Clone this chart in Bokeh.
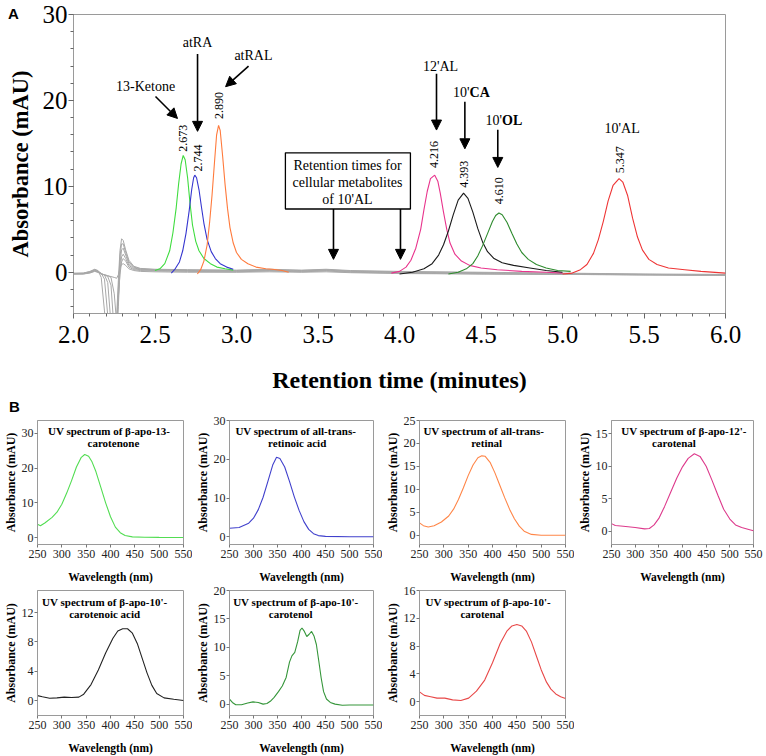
import numpy as np
from bokeh.plotting import figure
from bokeh.layouts import column, row
from bokeh.models import (Range1d, SingleIntervalTicker, PrintfTickFormatter,
                          Arrow, NormalHead, Div)
from bokeh.core.properties import value
from bokeh.embed import file_html
from bokeh.resources import INLINE

SERIF = "Liberation Serif"
SANS = "Liberation Sans"

# ---------------- Panel A data (retention time, mAU) ----------------
ketone_t = [2.50, 2.53, 2.56, 2.59, 2.61, 2.63, 2.645, 2.66, 2.673, 2.685, 2.70, 2.715,
            2.73, 2.75, 2.77, 2.80, 2.84, 2.88, 2.93, 2.98]
ketone_a = [0.2, 0.4, 1.0, 2.5, 4.6, 7.5, 10.3, 12.6, 13.6, 13.1, 11.0, 8.0,
            5.5, 3.6, 2.5, 1.6, 1.0, 0.6, 0.4, 0.25]

atra_t = [2.60, 2.62, 2.65, 2.67, 2.69, 2.71, 2.725, 2.737, 2.744, 2.755, 2.77, 2.785,
          2.80, 2.82, 2.845, 2.87, 2.90, 2.94, 2.98]
atra_a = [-0.1, 0.3, 1.2, 2.5, 4.5, 7.2, 9.6, 11.0, 11.3, 11.0, 9.6, 7.6,
          5.7, 3.8, 2.4, 1.6, 1.0, 0.6, 0.35]

atral_t = [2.76, 2.78, 2.80, 2.82, 2.835, 2.85, 2.865, 2.878, 2.890, 2.90, 2.915, 2.93,
           2.945, 2.96, 2.98, 3.00, 3.03, 3.07, 3.12, 3.18, 3.22, 3.28, 3.32]
atral_a = [-0.2, 0.3, 1.3, 3.2, 5.8, 9.0, 12.8, 16.0, 17.1, 16.5, 13.5, 10.2,
           7.4, 5.2, 3.4, 2.3, 1.5, 1.0, 0.6, 0.4, 0.35, 0.2, 0.0]

al12_t = [3.95, 4.00, 4.04, 4.07, 4.10, 4.13, 4.15, 4.17, 4.19, 4.216, 4.235, 4.25,
          4.27, 4.29, 4.31, 4.34, 4.38, 4.43, 4.50, 4.60, 4.75, 4.90, 5.00]
al12_a = [-0.1, 0.1, 0.6, 1.4, 2.8, 5.0, 7.3, 9.4, 10.9, 11.3, 10.6, 9.2,
          7.0, 5.0, 3.4, 2.1, 1.3, 0.8, 0.5, 0.3, 0.1, 0.0, -0.1]

ca10_t = [4.00, 4.08, 4.15, 4.20, 4.24, 4.27, 4.30, 4.33, 4.36, 4.393, 4.42, 4.45,
          4.48, 4.51, 4.54, 4.58, 4.63, 4.70, 4.80, 4.90, 5.00]
ca10_a = [-0.2, 0.0, 0.4, 1.0, 2.0, 3.2, 4.8, 6.7, 8.4, 9.2, 8.6, 7.0,
          5.1, 3.5, 2.4, 1.6, 1.1, 0.8, 0.5, 0.2, 0.0]

ol10_t = [4.30, 4.36, 4.41, 4.45, 4.48, 4.51, 4.54, 4.57, 4.59, 4.61, 4.63, 4.66,
          4.69, 4.72, 4.75, 4.79, 4.84, 4.90, 4.97, 5.05]
ol10_a = [-0.2, 0.0, 0.4, 1.0, 1.9, 3.1, 4.5, 5.9, 6.6, 6.9, 6.7, 5.8,
          4.5, 3.3, 2.3, 1.5, 0.9, 0.5, 0.2, 0.1]

al10_t = [5.00, 5.06, 5.11, 5.15, 5.19, 5.22, 5.25, 5.28, 5.31, 5.347, 5.37, 5.40,
          5.43, 5.46, 5.49, 5.53, 5.58, 5.65, 5.75, 5.85, 6.00]
al10_a = [-0.2, -0.1, 0.3, 0.9, 2.2, 3.8, 5.9, 8.3, 10.1, 10.9, 10.5, 8.9,
          6.3, 4.1, 2.6, 1.5, 0.9, 0.5, 0.3, 0.1, -0.1]

# gray background runs
gray_t = [2.00, 2.06, 2.10, 2.13, 2.15, 2.17, 2.19, 2.21, 2.23, 2.25, 2.265, 2.275, 2.285,
          2.295, 2.305, 2.32, 2.34, 2.37, 2.41, 2.50, 2.70, 3.00, 3.20, 3.40, 3.55, 3.70,
          4.00, 4.50, 5.00, 5.50, 6.00]
gray_1 = [-0.1, -0.1, 0.1, 0.35, 0.2, -0.6, -4.5, -9, -9, -9, -5, -1, 2.5, 3.9, 3.7, 2.6,
          1.4, 0.7, 0.45, 0.35, 0.3, 0.25, 0.35, 0.25, 0.35, 0.2, 0.1, 0.0, -0.1, -0.2, -0.25]
gray_2 = [-0.15, -0.1, 0.05, 0.3, 0.15, -0.1, -0.8, -5, -9, -9, -6, -2, 1.8, 3.3, 3.3, 2.3,
          1.2, 0.6, 0.4, 0.3, 0.25, 0.2, 0.3, 0.2, 0.3, 0.15, 0.05, -0.05, -0.15, -0.25, -0.3]
gray_3 = [-0.15, -0.15, 0.0, 0.25, 0.1, -0.15, -0.3, -1.2, -6, -9, -7, -3, 1.0, 2.6, 2.8, 2.0,
          1.0, 0.5, 0.35, 0.25, 0.2, 0.15, 0.25, 0.15, 0.25, 0.1, 0.0, -0.1, -0.2, -0.25, -0.3]
gray_4 = [-0.2, -0.15, 0.0, 0.2, 0.05, -0.2, -0.3, -0.5, -1.5, -7, -8, -4, 0.2, 1.8, 2.1, 1.6,
          0.8, 0.4, 0.3, 0.2, 0.15, 0.1, 0.2, 0.1, 0.2, 0.05, -0.05, -0.15, -0.2, -0.3, -0.35]
gray_5 = [-0.2, -0.2, -0.05, 0.15, 0.0, -0.2, -0.3, -0.4, -0.6, -2.5, -6, -3, -0.3, 1.2, 1.6, 1.3,
          0.6, 0.3, 0.2, 0.15, 0.1, 0.05, 0.15, 0.05, 0.15, 0.0, -0.1, -0.2, -0.25, -0.3, -0.35]
gray_6 = [-0.2, -0.2, -0.1, 0.1, 0.0, -0.2, -0.3, -0.4, -0.5, -0.6, -0.7, -0.3, 0.5, 0.9, 1.0, 0.8,
          0.4, 0.2, 0.1, 0.05, 0.0, 0.0, 0.05, 0.0, 0.05, -0.05, -0.15, -0.2, -0.25, -0.3, -0.35]

peak_times = [2.673, 2.744, 2.890, 4.216, 4.393, 4.610, 5.347]
peak_labels = ["2.673", "2.744", "2.890", "4.216", "4.393", "4.610", "5.347"]

# ---------------- Panel B data (wavelength nm, mAU) ----------------
k13_wl = [250, 256, 265, 280, 290, 300, 310, 320, 330, 340, 347, 355, 362, 370, 380, 390,
          400, 410, 420, 430, 445, 470, 500, 550]
k13_ab = [3.8, 3.4, 4.2, 5.8, 7.3, 9.6, 12.8, 16.4, 20.3, 23.1, 23.9, 23.4, 21.8, 19.0, 14.5, 10.0,
          6.0, 3.0, 1.4, 0.6, 0.2, 0.1, 0.05, 0.0]
ra_wl = [250, 270, 290, 300, 310, 320, 330, 340, 348, 355, 365, 375, 385, 395, 405, 415,
         425, 435, 450, 500, 550]
ra_ab = [2.2, 2.4, 3.5, 4.8, 7.0, 10.2, 14.3, 18.5, 20.5, 20.2, 18.0, 14.3, 10.3, 6.8, 3.9, 1.9,
         0.8, 0.3, 0.1, 0.0, 0.0]
ral_wl = [250, 258, 268, 280, 295, 310, 320, 330, 340, 350, 360, 370, 378, 385, 395, 405,
          415, 425, 435, 445, 455, 465, 480, 500, 550]
ral_ab = [2.7, 2.1, 1.8, 2.1, 2.9, 4.2, 5.7, 7.8, 10.3, 13.0, 15.3, 16.9, 17.3, 17.2, 15.9, 13.6,
          10.9, 8.2, 5.7, 3.6, 2.0, 0.9, 0.2, 0.0, 0.0]
al12_wl = [250, 258, 275, 300, 320, 330, 340, 350, 362, 375, 388, 400, 412, 425, 437, 450,
           462, 475, 487, 500, 512, 525, 540, 550]
al12_ab = [1.2, 0.9, 0.8, 0.6, 0.4, 0.45, 1.0, 2.0, 3.8, 6.0, 8.2, 9.9, 11.2, 11.9, 11.5, 10.0,
           7.9, 5.5, 3.4, 1.9, 1.0, 0.6, 0.3, 0.1]
ca10_wl = [250, 260, 275, 290, 305, 320, 335, 345, 360, 375, 390, 405, 415, 425, 435, 445,
           455, 465, 475, 485, 495, 510, 530, 550]
ca10_ab = [0.7, 0.55, 0.35, 0.4, 0.5, 0.45, 0.5, 0.9, 2.2, 4.2, 6.5, 8.5, 9.5, 9.8, 9.8, 9.2,
           7.8, 5.8, 3.8, 2.1, 1.0, 0.4, 0.2, 0.05]
ol10_wl = [250, 256, 263, 275, 288, 299, 310, 320, 328, 335, 343, 352, 360, 368, 375, 380,
           386, 392, 397, 401, 406, 411, 416, 421, 426, 431, 436, 441, 446, 452, 460, 470,
           485, 500, 550]
ol10_ab = [0.9, 0.3, -0.1, -0.1, 0.2, 0.4, 0.3, 0.0, 0.1, 0.5, 1.2, 2.2, 3.2, 4.7, 7.4, 8.5,
           9.1, 11.0, 13.0, 13.4, 12.8, 11.9, 12.3, 12.8, 12.0, 10.5, 7.6, 4.6, 2.2, 0.9, 0.3, 0.0,
           -0.2, -0.15, -0.15]
al10_wl = [250, 260, 273, 286, 302, 318, 335, 351, 367, 384, 400, 416, 430, 440, 450, 460,
           470, 480, 490, 500, 511, 520, 530, 540, 550]
al10_ab = [1.4, 0.9, 0.7, 0.5, 0.5, 0.25, 0.15, 0.5, 1.5, 3.1, 5.6, 8.4, 10.2, 10.9, 11.1, 10.9,
           10.1, 8.6, 6.6, 4.6, 2.8, 1.8, 1.1, 0.7, 0.45]

FRAME = "#9a9a9a"

# ---------------- Panel A ----------------
p = figure(width=766, height=400, x_range=Range1d(2.0, 6.0), y_range=Range1d(-4.8, 30),
           output_backend="svg", toolbar_location=None,
           min_border_left=73, min_border_right=41, min_border_top=14, min_border_bottom=87)
p.grid.visible = False
p.outline_line_color = FRAME
p.background_fill_color = "white"
p.border_fill_color = "white"

p.xaxis.ticker = SingleIntervalTicker(interval=0.5, num_minor_ticks=5)
p.xaxis.formatter = PrintfTickFormatter(format="%.1f")
p.yaxis.ticker = SingleIntervalTicker(interval=10, num_minor_ticks=5)
for ax in (p.xaxis[0], p.yaxis[0]):
    ax.axis_line_color = FRAME
    ax.major_tick_line_color = "#666666"
    ax.minor_tick_line_color = "#666666"
    ax.major_tick_out = 5
    ax.major_tick_in = 0
    ax.minor_tick_out = 3
    ax.minor_tick_in = 0
    ax.major_label_text_font = SERIF
    ax.major_label_text_font_size = "25px"
    ax.major_label_text_color = "black"
    ax.axis_label_text_font = SERIF
    ax.axis_label_text_font_style = "bold"
    ax.axis_label_text_color = "black"
p.xaxis.axis_label = "Retention time (minutes)"
p.yaxis.axis_label = "Absorbance (mAU)"
p.xaxis.axis_label_text_font_size = "24px"
p.yaxis.axis_label_text_font_size = "22.5px"
p.xaxis.major_label_standoff = 7
p.xaxis.axis_label_standoff = 21
p.yaxis.major_label_standoff = 1
p.yaxis.axis_label_standoff = 7

for g in (gray_1, gray_2, gray_3, gray_4, gray_5, gray_6):
    p.line(gray_t, g, line_color="#a8a8a8", line_width=1)

curves = [(ketone_t, ketone_a, "#3fdc3f"), (atra_t, atra_a, "#3535cf"),
          (atral_t, atral_a, "#ff7a3c"), (al12_t, al12_a, "#e8338c"),
          (ca10_t, ca10_a, "#1a1a1a"), (ol10_t, ol10_a, "#2e8b2e"),
          (al10_t, al10_a, "#ee3535")]
for t, a, c in curves:
    p.line(t, a, line_color=c, line_width=1.1)

# peak retention time labels (rotated)
label_y = [15.6, 13.3, 19.4, 13.7, 11.4, 9.5, 13.1]
label_dx = [-0.004, 0.017, 0.0, -0.007, 0.002, -0.001, 0.005]
p.text(x=[t + d for t, d in zip(peak_times, label_dx)], y=label_y, text=peak_labels,
       angle=np.pi / 2, text_align="center", text_baseline="middle",
       text_font=value(SERIF), text_font_size="12px", text_color="black")

# compound names
p.text(x=[2.442, 2.761, 3.104, 4.252, 5.366], y=[21.6, 26.7, 25.2, 24.0, 16.7],
       text=["13-Ketone", "atRA", "atRAL", "12'AL", "10'AL"],
       text_align="center", text_baseline="middle",
       text_font=value(SERIF), text_font_size="14px", text_color="black")
p.text(x=[4.43, 4.629], y=[20.9, 17.7], text=["10'", "10'"], text_align="right",
       text_baseline="middle", text_font=value(SERIF), text_font_size="14px", text_color="black")
p.text(x=[4.43, 4.629], y=[20.9, 17.7], text=["CA", "OL"], text_align="left",
       text_baseline="middle", text_font=value(SERIF), text_font_size="14px",
       text_font_style="bold", text_color="black")

# box
p.quad(left=[3.30], right=[4.067], bottom=[7.36], top=[13.9], fill_color="white",
       line_color="black", line_width=1.3)
p.text(x=[3.681, 3.681, 3.681], y=[12.41, 10.46, 8.51],
       text=["Retention times for", "cellular metabolites", "of 10'AL"],
       text_align="center", text_baseline="middle",
       text_font=value(SERIF), text_font_size="14px", text_color="black")

arrows = [(2.503, 20.46, 2.638, 17.9), (2.761, 25.4, 2.761, 16.4), (3.074, 24.0, 2.933, 21.6),
          (4.227, 23.1, 4.227, 16.55), (4.401, 19.85, 4.401, 14.37), (4.603, 16.6, 4.603, 12.2),
          (3.595, 7.36, 3.595, 1.5), (4.006, 7.36, 4.006, 1.5)]
for xs, ys, xe, ye in arrows:
    p.add_layout(Arrow(end=NormalHead(size=10, fill_color="black", line_color="black"),
                       x_start=xs, y_start=ys, x_end=xe, y_end=ye,
                       line_color="black", line_width=1.6))


# ---------------- Panel B ----------------
def spectrum(wl, ab, color, ymin, ymax, ystep, t1, t2, fx1, fx2, fy1, fy2,
             width, bl, br, height, bt, bb):
    f = figure(width=width, height=height, x_range=Range1d(250, 550),
               y_range=Range1d(ymin, ymax), output_backend="svg", toolbar_location=None,
               min_border_left=bl, min_border_right=br, min_border_top=bt,
               min_border_bottom=bb)
    f.grid.visible = False
    f.outline_line_color = FRAME
    f.xaxis.ticker = SingleIntervalTicker(interval=50, num_minor_ticks=0)
    f.yaxis.ticker = SingleIntervalTicker(interval=ystep, num_minor_ticks=0)
    for ax in (f.xaxis[0], f.yaxis[0]):
        ax.axis_line_color = FRAME
        ax.major_tick_line_color = "#777777"
        ax.major_tick_out = 3
        ax.major_tick_in = 0
        ax.minor_tick_out = 0
        ax.major_label_text_font = SERIF
        ax.major_label_text_font_size = "12px"
        ax.major_label_text_color = "#222222"
        ax.axis_label_text_font = SERIF
        ax.axis_label_text_font_style = "bold"
        ax.axis_label_text_color = "black"
    f.xaxis.axis_label = "Wavelength (nm)"
    f.yaxis.axis_label = "Absorbance (mAU)"
    f.xaxis.axis_label_text_font_size = "11.5px"
    f.yaxis.axis_label_text_font_size = "12px"
    f.xaxis.major_label_standoff = 2
    f.xaxis.axis_label_standoff = 10
    f.yaxis.major_label_standoff = 1
    f.yaxis.axis_label_standoff = 1
    f.line(wl, ab, line_color=color, line_width=1.1)
    yr = ymax - ymin
    f.text(x=[250 + fx1 * 300, 250 + fx2 * 300], y=[ymin + fy1 * yr, ymin + fy2 * yr],
           text=[t1, t2], text_align="center", text_baseline="middle",
           text_font=value(SERIF), text_font_size="11px", text_font_style="bold",
           text_color="black")
    return f


H1, BT1, BB1 = 185, 20, 40
H2, BT2, BB2 = 171, 5, 39
f1 = spectrum(k13_wl, k13_ab, "#52dd52", -2, 33.7, 10, "UV spectrum of  β-apo-13-", "carotenone",
              0.50, 0.52, 0.912, 0.82, 192, 30, 9, H1, BT1, BB1)
f2 = spectrum(ra_wl, ra_ab, "#4040cc", -2, 30, 10, "UV spectrum of all-trans-", "retinoic acid",
              0.46, 0.47, 0.912, 0.82, 190, 28, 9, H1, BT1, BB1)
f3 = spectrum(ral_wl, ral_ab, "#ff8648", -2, 25, 5, "UV spectrum of all-trans-", "retinal",
              0.44, 0.46, 0.912, 0.82, 192, 30, 9, H1, BT1, BB1)
f4 = spectrum(al12_wl, al12_ab, "#dd3a8c", -2, 17, 5, "UV spectrum of  β-apo-12'-", "carotenal",
              0.52, 0.44, 0.912, 0.82, 192, 28, 13, H1, BT1, BB1)
f5 = spectrum(ca10_wl, ca10_ab, "#222222", -2, 15, 4, "UV spectrum of  β-apo-10'-", "carotenoic acid",
              0.47, 0.46, 0.905, 0.81, 192, 30, 9, H2, BT2, BB2)
f6 = spectrum(ol10_wl, ol10_ab, "#35963a", -2, 20, 5, "UV spectrum of  β-apo-10'-", "carotenol",
              0.47, 0.425, 0.905, 0.81, 190, 28, 9, H2, BT2, BB2)
f7 = spectrum(al10_wl, al10_ab, "#e84848", -2, 16, 4, "UV spectrum of  β-apo-10'-", "carotenal",
              0.48, 0.43, 0.905, 0.81, 192, 30, 9, H2, BT2, BB2)

panel_letter_style = {"position": "absolute", "font-family": SANS, "font-weight": "bold",
                      "font-size": "15px", "line-height": "15px", "color": "black",
                      "z-index": "10"}
div_a = Div(text="A", styles=dict(panel_letter_style, left="3px", top="1px"))
div_b = Div(text="B", styles=dict(panel_letter_style, left="4px", top="394px"))

layout = column(p, row(f1, f2, f3, f4, spacing=0), row(f5, f6, f7, spacing=0), div_a, div_b,
                spacing=0)

open("out.html", "w").write(file_html(layout, INLINE))
